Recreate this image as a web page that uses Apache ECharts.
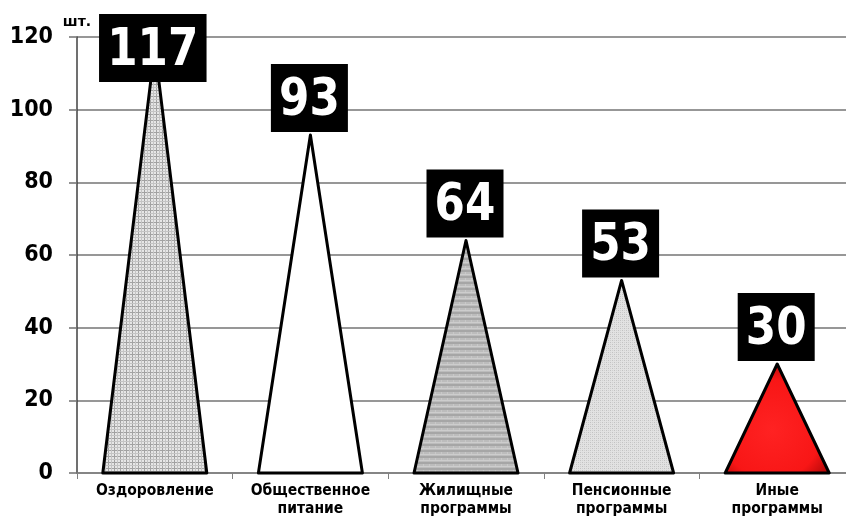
<!DOCTYPE html>
<html>
<head>
<meta charset="utf-8">
<script src="https://cdn.jsdelivr.net/npm/echarts@6/dist/echarts.min.js"></script>
<style>
html,body{margin:0;padding:0;background:#fff;}
#chart{width:846px;height:516px;}
</style>
</head>
<body>
<div id="chart"></div>
<script>
const categories = ['Оздоровление', 'Общественное\nпитание', 'Жилищные\nпрограммы', 'Пенсионные\nпрограммы', 'Иные\nпрограммы'];
const values = [117, 93, 64, 53, 30];
const yTicks = { min: 0, max: 120, interval: 20 };
const unitLabel = 'шт.';

function makeCanvas(w, h, draw) {
  const c = document.createElement('canvas');
  c.width = w; c.height = h;
  draw(c.getContext('2d'), w, h);
  return c;
}
const plaid = makeCanvas(6, 6, (ctx, w, h) => {
  ctx.fillStyle = '#e6e6e6'; ctx.fillRect(0, 0, w, h);
  ctx.fillStyle = '#a2a2a2';
  ctx.fillRect(0, 0, 1, h); ctx.fillRect(0, 0, w, 1);
  ctx.fillStyle = '#c4c4c4';
  ctx.fillRect(3, 0, 1, h); ctx.fillRect(0, 3, w, 1);
});
const bands = makeCanvas(6, 6, (ctx, w, h) => {
  ctx.fillStyle = '#bcbcbc'; ctx.fillRect(0, 0, w, h);
  ctx.fillStyle = '#a6a6a6'; ctx.fillRect(0, 0, w, 2);
  ctx.fillStyle = '#cdcdcd'; ctx.fillRect(0, 4, w, 1);
  ctx.fillStyle = '#c8c8c8'; ctx.fillRect(3, 2, 1, 2);
});
const dots = makeCanvas(4, 4, (ctx, w, h) => {
  ctx.fillStyle = '#e2e2e2'; ctx.fillRect(0, 0, w, h);
  ctx.fillStyle = '#c2c2c2';
  ctx.fillRect(0, 0, 1, 1); ctx.fillRect(2, 2, 1, 1);
  ctx.fillStyle = '#d0d0d0';
  ctx.fillRect(2, 0, 1, 1); ctx.fillRect(0, 2, 1, 1);
});

const fills = [
  { image: plaid, repeat: 'repeat' },
  '#ffffff',
  { image: bands, repeat: 'repeat' },
  { image: dots, repeat: 'repeat' },
  {
    type: 'radial', x: 0.45, y: 0.6, r: 0.75,
    colorStops: [
      { offset: 0, color: '#ff2222' },
      { offset: 0.62, color: '#f81616' },
      { offset: 1, color: '#8c0000' }
    ]
  }
];

const seriesData = values.map((v, i) => [i, v]);

function renderItem(params, api) {
  const idx = params.dataIndex;
  const cat = api.value(0), v = api.value(1);
  const base = api.coord([cat, 0]);
  const tip = api.coord([cat, v]);
  const hw = 52;
  const txt = String(v);
  const boxW = txt.length * 30.5 + 16;
  const boxH = 68;
  let boxBottom = tip[1] - 3;
  let boxTop = boxBottom - boxH;
  if (boxTop < 14) { boxTop = 14; }
  const cx = tip[0] - (idx === 0 ? 2 : 1);
  return {
    type: 'group',
    children: [
      {
        type: 'polygon',
        shape: { points: [[base[0] - hw, base[1]], [tip[0], tip[1]], [base[0] + hw, base[1]]] },
        style: { fill: fills[idx], stroke: '#000', lineWidth: 3, lineJoin: 'round' }
      },
      {
        type: 'rect',
        shape: { x: cx - boxW / 2, y: boxTop, width: boxW, height: boxH },
        style: { fill: '#000' }
      },
      {
        type: 'text',
        x: cx, y: boxTop + boxH / 2 + 3,
        scaleX: 0.84,
        style: {
          text: txt, fill: '#fff', align: 'center', verticalAlign: 'middle',
          font: 'bold 52px "DejaVu Sans"'
        }
      }
    ]
  };
}

const chart = echarts.init(document.getElementById('chart'), null, { renderer: 'canvas' });

chart.setOption({
  animation: false,
  backgroundColor: '#ffffff',
  grid: { left: 77, width: 778, top: 37, bottom: 43, containLabel: false, outerBoundsMode: 'none' },
  xAxis: {
    type: 'category',
    data: categories,
    boundaryGap: true,
    axisLine: { show: true, lineStyle: { color: '#808080', width: 1.5 } },
    axisTick: { show: true, length: 6, lineStyle: { color: '#808080', width: 1 } },
    axisLabel: {
      color: '#000', fontFamily: '"DejaVu Sans Condensed", "DejaVu Sans"', fontWeight: 'bold', fontSize: 15.5,
      lineHeight: 18, margin: 9, interval: 0
    }
  },
  yAxis: {
    type: 'value',
    min: yTicks.min, max: yTicks.max, interval: yTicks.interval,
    name: unitLabel,
    nameLocation: 'end',
    nameGap: 8,
    nameTextStyle: { color: '#000', fontFamily: 'DejaVu Sans', fontWeight: 'bold', fontSize: 14, align: 'center' },
    axisLine: { show: true, lineStyle: { color: '#404040', width: 1.5 } },
    axisTick: { show: true, length: 8, lineStyle: { color: '#707070', width: 1.5 } },
    axisLabel: { color: '#000', fontFamily: '"DejaVu Sans Condensed", "DejaVu Sans"', fontWeight: 'bold', fontSize: 23, margin: 24 },
    splitLine: { show: true, lineStyle: { color: '#757575', width: 1.5 } }
  },
  series: [{
    type: 'custom',
    renderItem: renderItem,
    encode: { x: 0, y: 1 },
    data: seriesData,
    clip: false,
    z: 3
  }]
});
</script>
</body>
</html>
